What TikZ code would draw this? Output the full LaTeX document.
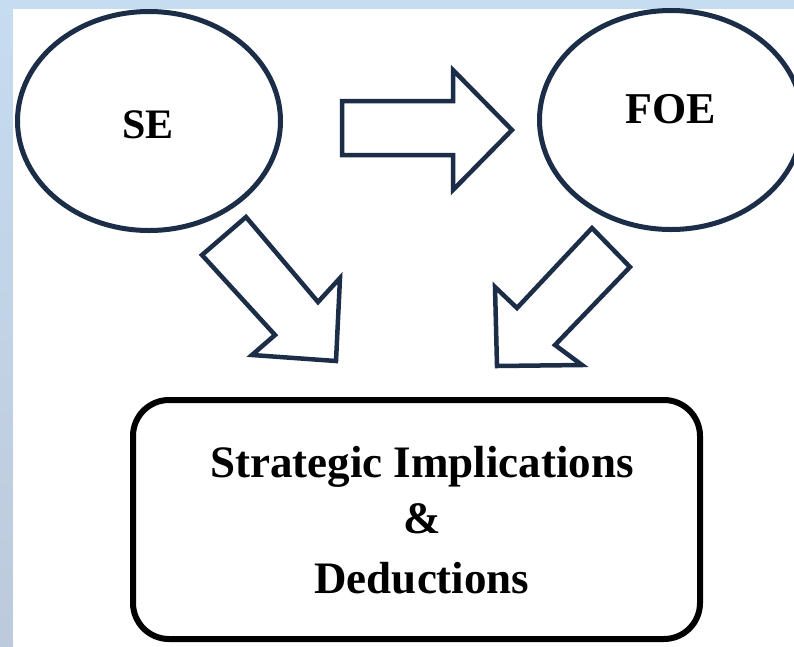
\documentclass[tikz,border=0pt]{standalone}
\usepackage{fontspec}
\setmainfont{Liberation Serif}
\usetikzlibrary{shapes.geometric}

\definecolor{navy}{HTML}{1C2D48}
\definecolor{frametop}{HTML}{C6DCF0}
\definecolor{framebot}{HTML}{BCCADB}

\tikzset{
  entity/.style={ellipse, draw=navy, line width=5pt, inner sep=0pt,
                 minimum width=263pt, minimum height=219pt},
  bigword/.style={font=\bfseries\fontsize{44}{50}\selectfont, inner sep=0pt, anchor=base},
  boxword/.style={font=\bfseries\fontsize{45}{58}\selectfont, inner sep=0pt, anchor=base},
  blockarrow/.style={draw=navy, line width=4.5pt, line join=miter, fill=white},
  outcome/.style={draw=black, line width=6pt, rounded corners=36pt, inner sep=0pt,
                  minimum width=567pt, minimum height=239pt}
}

\begin{document}
\begin{tikzpicture}[x=1pt, y=-1pt]
  % page frame: light blue strip on top and left, white page
  \useasboundingbox (0,0) rectangle (794,646);
  \shade[top color=frametop, bottom color=framebot] (0,0) rectangle (13,646);
  \fill[frametop] (0,0) rectangle (794,9);
  \fill[white] (13,9) rectangle (794,646);

  \begin{scope}
    \clip (0,0) rectangle (794,646);

    % the two environments
    \node[entity] (se) at (149,121) {};
    \node[bigword] (selabel) at (148,138) {\fontsize{42}{48}\selectfont SE};

    \node[entity] (foe) at (671,120) {};
    \node[bigword] (foelabel) at (671,123) {FOE};

    % SE -> FOE
    \coordinate (r1) at (342,101);
    \coordinate (r2) at (453,101);
    \coordinate (r3) at (453,70);
    \coordinate (r4) at (512,130);
    \coordinate (r5) at (453,190);
    \coordinate (r6) at (453,155);
    \coordinate (r7) at (342,155);
    \draw[blockarrow] (r1) -- (r2) -- (r3) -- (r4) -- (r5) -- (r6) -- (r7) -- cycle;

    % SE -> outcome
    \coordinate (a1) at (246,217);
    \coordinate (a2) at (318,302);
    \coordinate (a3) at (340,278);
    \coordinate (a4) at (336,361);
    \coordinate (a5) at (252,355);
    \coordinate (a6) at (275,335);
    \coordinate (a7) at (202,255);
    \draw[blockarrow] (a1) -- (a2) -- (a3) -- (a4) -- (a5) -- (a6) -- (a7) -- cycle;

    % FOE -> outcome
    \coordinate (b1) at (592,228);
    \coordinate (b2) at (517,308);
    \coordinate (b3) at (495,287);
    \coordinate (b4) at (497,366);
    \coordinate (b5) at (582,365);
    \coordinate (b6) at (555,345);
    \coordinate (b7) at (630,267);
    \draw[blockarrow] (b1) -- (b2) -- (b3) -- (b4) -- (b5) -- (b6) -- (b7) -- cycle;

    % outcome box
    \node[outcome] (result) at (416.5,519.5) {};
    \node[boxword] (line1) at (422,477) {Strategic Implications};
    \node[boxword] (line2) at (422,533) {\&};
    \node[boxword] (line3) at (422,593) {Deductions};
  \end{scope}
\end{tikzpicture}
\end{document}
